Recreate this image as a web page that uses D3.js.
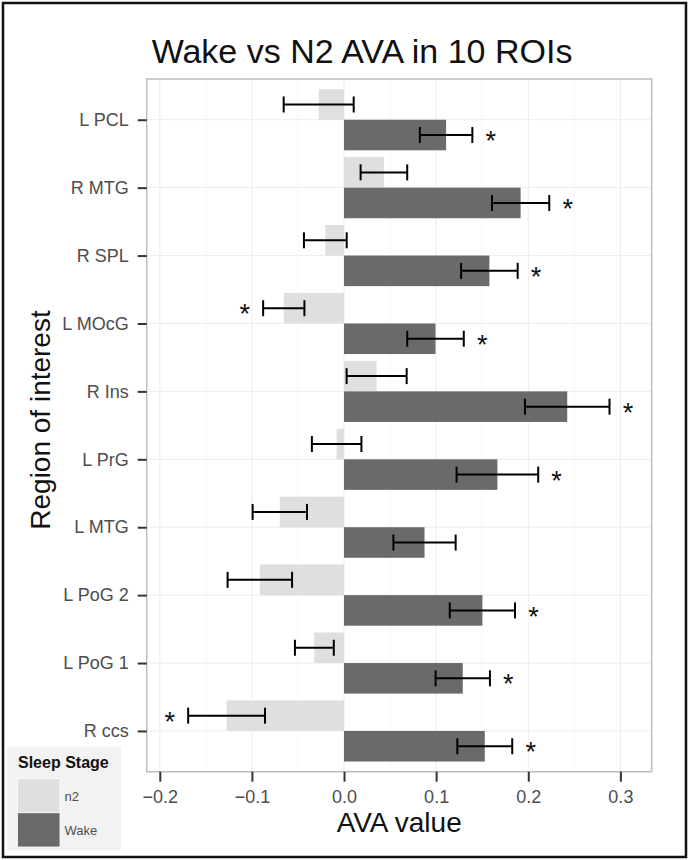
<!DOCTYPE html>
<html><head><meta charset="utf-8">
<script src="https://cdn.jsdelivr.net/npm/d3@7"></script>
<style>
html,body{margin:0;padding:0;background:#fff;}
svg{display:block;font-family:"Liberation Sans",Arial,Helvetica,sans-serif;}
</style></head>
<body>
<svg id="chart" width="689" height="860"></svg>
<script>
const regions = ["L PCL","R MTG","R SPL","L MOcG","R Ins","L PrG","L MTG","L PoG 2","L PoG 1","R ccs"];
const stages = ["n2","Wake"];
const n2Values   = [-0.0275, 0.0433, -0.0203, -0.0654, 0.0354, -0.0080, -0.0697, -0.0914, -0.0322, -0.1275];
const n2Err      = [0.0380, 0.0253, 0.0232, 0.0224, 0.0326, 0.0269, 0.0295, 0.0350, 0.0211, 0.0417];
const wakeValues = [0.1108, 0.1917, 0.1578, 0.0993, 0.2423, 0.1665, 0.0874, 0.1502, 0.1289, 0.1528];
const wakeErr    = [0.0285, 0.0311, 0.0307, 0.0307, 0.0459, 0.0443, 0.0338, 0.0354, 0.0295, 0.0298];
const n2Sig      = [0,0,0,1,0,0,0,0,0,1];
const wakeSig    = [1,1,1,1,1,1,0,1,1,1];
const xTicks = [-0.2,-0.1,0.0,0.1,0.2,0.3];
const xMinor = [-0.15,-0.05,0.05,0.15,0.25];
const colors = {n2:"#dfdfdf", Wake:"#6a6a6a"};

const svg = d3.select("#chart");
const P = {left:146.7, right:651.7, top:79, bottom:771.7};

const x = d3.scaleLinear().domain([-0.2142, 0.334]).range([P.left, P.right]);
const y = d3.scalePoint().domain(regions).range([P.top, P.bottom]).padding(0.6);
const dodge = d3.scaleBand().domain(stages).range([-0.45*y.step(), 0.45*y.step()]).padding(0);

// outer border
svg.append("rect").attr("x",3).attr("y",3).attr("width",683).attr("height",854)
  .attr("fill","#fff").attr("stroke","#111").attr("stroke-width",2.5);

// panel
svg.append("rect").attr("x",P.left).attr("y",P.top).attr("width",P.right-P.left).attr("height",P.bottom-P.top)
  .attr("fill","#fff");
const grid = svg.append("g");
grid.selectAll(".minor").data(xMinor).join("line")
  .attr("x1",d=>x(d)).attr("x2",d=>x(d)).attr("y1",P.top).attr("y2",P.bottom)
  .attr("stroke","#f7f7f7").attr("stroke-width",1);
grid.selectAll(".majx").data(xTicks).join("line")
  .attr("x1",d=>x(d)).attr("x2",d=>x(d)).attr("y1",P.top).attr("y2",P.bottom)
  .attr("stroke","#ececec").attr("stroke-width",1);
grid.selectAll(".majy").data(regions).join("line")
  .attr("x1",P.left).attr("x2",P.right).attr("y1",d=>y(d)).attr("y2",d=>y(d))
  .attr("stroke","#ececec").attr("stroke-width",1);

// data rows
const rows = [];
regions.forEach((r,i)=>{
  rows.push({region:r, stage:"n2", v:n2Values[i], e:n2Err[i], sig:n2Sig[i]});
  rows.push({region:r, stage:"Wake", v:wakeValues[i], e:wakeErr[i], sig:wakeSig[i]});
});
const cy = d => y(d.region) + dodge(d.stage) + dodge.bandwidth()/2;

svg.append("g").selectAll("rect").data(rows).join("rect")
  .attr("x",d=>x(Math.min(0,d.v)))
  .attr("width",d=>Math.abs(x(d.v)-x(0)))
  .attr("y",d=>y(d.region)+dodge(d.stage))
  .attr("height",dodge.bandwidth())
  .attr("fill",d=>colors[d.stage]);

// error bars
const eb = svg.append("g").attr("stroke","#000").attr("stroke-width",2).attr("fill","none");
const capH = 8;
rows.forEach(d=>{
  const c = cy(d), lo = x(d.v-d.e), hi = x(d.v+d.e);
  eb.append("line").attr("x1",lo).attr("x2",hi).attr("y1",c).attr("y2",c);
  eb.append("line").attr("x1",lo).attr("x2",lo).attr("y1",c-capH).attr("y2",c+capH);
  eb.append("line").attr("x1",hi).attr("x2",hi).attr("y1",c-capH).attr("y2",c+capH);
});

// significance stars
const starFs = 27;
svg.append("g").selectAll("text").data(rows.filter(d=>d.sig)).join("text")
  .attr("x",d=> d.v>=0 ? x(d.v+d.e+0.02) : x(d.v-d.e-0.02))
  .attr("y",d=>cy(d)+0.56*starFs)
  .attr("text-anchor","middle").attr("font-size",starFs).attr("fill","#111")
  .text("*");

// panel border
svg.append("rect").attr("x",P.left).attr("y",P.top).attr("width",P.right-P.left).attr("height",P.bottom-P.top)
  .attr("fill","none").attr("stroke","#bdbdbd").attr("stroke-width",1.5);

// axes
const xAxis = svg.append("g").attr("transform",`translate(0,${P.bottom})`)
  .call(d3.axisBottom(x).tickValues(xTicks).tickFormat(d3.format(".1f")).tickSize(10).tickPadding(9));
xAxis.select(".domain").remove();
xAxis.selectAll(".tick line").attr("stroke","#333").attr("stroke-width",2);
xAxis.selectAll(".tick text").attr("font-size",18).attr("fill","#4d4d4d")
  .attr("font-family","Liberation Sans, Arial, sans-serif");

const yAxis = svg.append("g").attr("transform",`translate(${P.left},0)`)
  .call(d3.axisLeft(y).tickSize(9).tickPadding(9));
yAxis.select(".domain").remove();
yAxis.selectAll(".tick line").attr("stroke","#333").attr("stroke-width",2);
yAxis.selectAll(".tick text").attr("font-size",18).attr("fill","#4d4d4d")
  .attr("font-family","Liberation Sans, Arial, sans-serif");

// titles
svg.append("text").attr("x",362).attr("y",63).attr("text-anchor","middle")
  .attr("font-size",34).attr("fill","#111").text("Wake vs N2 AVA in 10 ROIs");
svg.append("text").attr("x",(P.left+P.right)/2).attr("y",832).attr("text-anchor","middle")
  .attr("font-size",28).attr("fill","#111").text("AVA value");
svg.append("text").attr("transform",`translate(50,420) rotate(-90)`)
  .attr("text-anchor","middle").attr("font-size",28).attr("fill","#111").text("Region of interest");

// legend
const lg = svg.append("g");
lg.append("rect").attr("x",7).attr("y",746.5).attr("width",114).attr("height",104).attr("fill","#f2f2f2");
lg.append("text").attr("x",18).attr("y",768).attr("font-size",16).attr("font-weight","bold")
  .attr("fill","#111").text("Sleep Stage");
const keyY = d3.scaleBand().domain(stages).range([778.5, 847]);
lg.selectAll(".key").data(stages).join("rect")
  .attr("x",17.5).attr("y",d=>keyY(d)).attr("width",42.5).attr("height",keyY.bandwidth())
  .attr("fill",d=>colors[d]).attr("stroke","#fff").attr("stroke-width",0.8);
lg.selectAll(".lab").data(stages).join("text")
  .attr("x",64.5).attr("y",d=>keyY(d)+keyY.bandwidth()/2+5)
  .attr("font-size",13).attr("fill","#4d4d4d").text(d=>d);
</script>
</body></html>
